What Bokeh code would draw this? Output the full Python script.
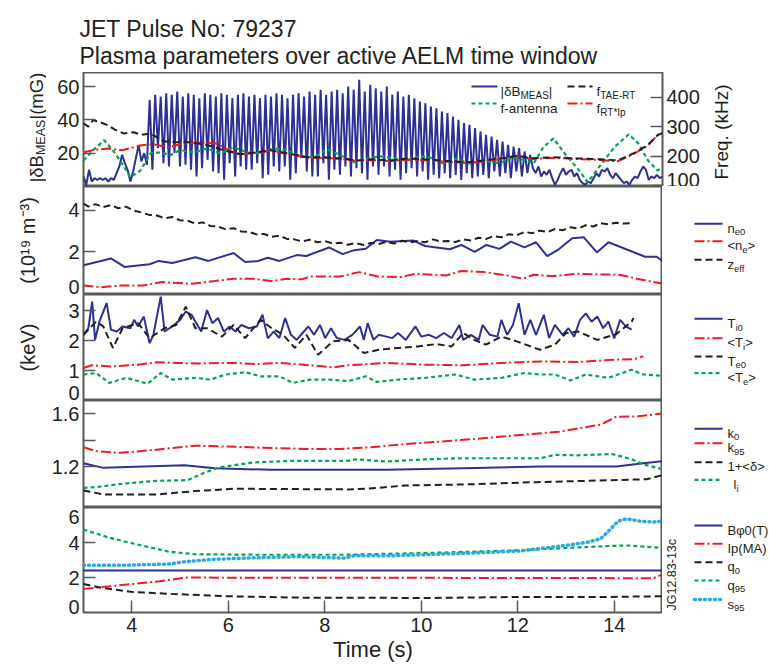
import numpy as np
from bokeh.plotting import figure
from bokeh.layouts import column, row
from bokeh.models import Range1d, LinearAxis, FixedTicker
from bokeh.core.properties import value
from bokeh.embed import file_html
from bokeh.resources import INLINE

# ---------------- data ----------------
# Panel 1: |dB_MEAS| (mG), uniformly sampled between 3 s and 15 s
db_meas = [6, 1, 10, 3, 5, 4, 5, 4, 5, 3, 5, 4, 8, 12, 19, 14, 10, 3, 9, 17, 25, 15, 20, 13,
           52, 10, 55, 23, 54, 14, 56, 12, 55, 20, 57, 12, 54, 13, 56, 10, 55, 6, 53, 11, 56, 16,
           55, 9, 54, 8, 56, 4, 55, 14, 53, 6, 55, 12, 56, 10, 54, 10, 55, 14, 53, 5, 55, 7,
           54, 12, 56, 9, 55, 12, 53, 4, 55, 8, 56, 17, 54, 9, 57, 6, 55, 6, 58, 14, 55, 4,
           57, 10, 58, 7, 56, 12, 60, 6, 58, 11, 64, 8, 57, 4, 61, 12, 59, 7, 57, 12, 60, 6,
           55, 10, 57, 4, 54, 8, 55, 11, 53, 6, 51, 9, 50, 4, 48, 7, 47, 5, 45, 8, 44, 5,
           42, 7, 40, 4, 38, 8, 37, 5, 35, 6, 33, 7, 31, 5, 30, 9, 28, 6, 27, 8, 25, 5,
           24, 9, 23, 6, 21, 8, 19,
           11, 8, 12, 6, 9, 7, 10, 5, 1, 4, 8, 11, 7, 9, 10, 6, 8, 4, 2, 1, 3, 2, 5, 8,
           6, 10, 9, 11, 7, 5, 8, 6, 4, 2, 3, 1, 4, 6, 5, 9, 12, 10, 4, 6, 5, 7, 5, 6]
db_time = np.linspace(3.0, 15.0, len(db_meas))

tae_t = [3.0, 3.1, 3.2, 3.35, 3.5, 3.65, 3.83, 4.04, 4.2, 4.39, 4.66, 4.95, 5.22, 5.57, 5.9,
         6.25, 6.6, 6.87, 7.23, 7.64, 7.98, 8.33, 8.68, 9.0, 9.36, 9.7, 10.05, 10.4, 10.96,
         11.5, 11.8, 12.0, 12.26, 12.74, 13.24, 13.71, 14.07, 14.4, 14.69, 14.9, 15.0]
tae_f = [311, 300, 322, 315, 305, 290, 277, 281, 272, 277, 250, 247, 247, 237, 220,
         206, 213, 220, 209, 196, 196, 192, 185, 189, 185, 192, 189, 185, 179,
         189, 195, 202, 192, 196, 192, 189, 185, 209, 237, 271, 278]

rtip_t = [3.0, 3.2, 3.5, 3.8, 4.2, 4.45, 4.75, 5.0, 5.4, 5.75, 6.1, 6.25, 6.6, 6.87, 7.23,
          7.64, 7.98, 8.33, 8.68, 9.0, 9.36, 9.7, 10.05, 10.4, 10.96, 11.5, 12.0, 12.26,
          12.74, 13.24, 13.71, 14.07, 14.4, 14.69, 14.9, 15.0]
rtip_f = [213, 220, 226, 220, 237, 240, 230, 240, 247, 243, 213, 206, 211, 218, 207,
          194, 194, 190, 183, 186, 183, 188, 186, 182, 176, 186, 200, 190,
          194, 190, 187, 182, 207, 235, 272, 282]

ant_t = [3.0, 3.2, 3.43, 3.64, 3.85, 3.97, 4.18, 4.39, 4.6, 4.8, 5.0, 5.3, 5.57, 5.84, 6.1,
         6.4, 6.66, 6.95, 7.23, 7.5, 7.78, 8.05, 8.33, 8.6, 8.88, 9.15, 9.43, 9.7, 9.98,
         10.18, 10.46, 10.73, 11.0, 11.3, 11.63, 11.9, 12.18, 12.33, 12.53, 12.74, 13.0,
         13.24, 13.45, 13.71, 14.0, 14.3, 14.5, 14.7, 14.9, 15.0]
ant_f = [185, 220, 254, 213, 162, 128, 151, 209, 213, 203, 220, 213, 226, 209, 230,
         213, 209, 226, 220, 199, 196, 223, 203, 179, 192, 199, 192, 185, 199,
         195, 175, 192, 175, 185, 175, 195, 185, 175, 230, 260, 203,
         158, 111, 168, 230, 274, 243, 185, 151, 162]

# Panel 2: densities (1e19 m^-3) and z_eff
ne0_t = [3.0, 3.57, 3.85, 4.37, 4.56, 4.84, 5.32, 5.59, 6.11, 6.35, 6.59, 6.82, 7.06, 7.42,
         7.62, 8.09, 8.37, 8.61, 8.85, 9.08, 9.36, 9.84, 10.08, 10.59, 10.83, 11.11, 11.35,
         11.62, 11.86, 12.14, 12.38, 12.61, 12.85, 13.13, 13.37, 13.64, 13.88, 14.64, 14.88, 15.0]
ne0 = [1.35, 1.68, 1.27, 1.4, 1.56, 1.46, 1.74, 1.56, 1.94, 1.51, 1.54, 1.71, 1.56, 1.84,
       1.80, 2.21, 1.89, 2.08, 2.15, 2.57, 2.49, 2.54, 2.28, 2.12, 2.33, 2.0, 2.33,
       2.14, 2.49, 2.21, 2.46, 1.79, 2.12, 2.65, 2.70, 1.97, 2.46, 1.76, 1.76, 1.56]
ne_avg_t = [3.0, 3.37, 3.76, 4.23, 4.63, 5.25, 5.72, 6.11, 6.51, 6.9, 7.22, 7.53, 7.69, 8.32,
            8.71, 9.1, 9.57, 9.88, 10.52, 10.83, 11.3, 11.78, 12.1, 12.33, 12.73, 13.2, 13.68,
            14.08, 14.47, 15.0]
ne_avg = [0.37, 0.29, 0.37, 0.37, 0.54, 0.46, 0.59, 0.70, 0.70, 0.59, 0.70, 0.67, 0.81, 0.81,
          1.02, 0.81, 0.78, 0.94, 0.86, 1.07, 1.02, 0.86, 0.70, 0.89, 0.83, 0.94, 0.91,
          0.91, 0.70, 0.46]
zeff_t = [3.0, 3.1, 3.25, 3.4, 3.57, 3.72, 3.88, 4.05, 4.2, 4.36, 4.52, 4.68, 4.84, 5.0, 5.16,
          5.32, 5.47, 5.63, 5.79, 5.95, 6.11, 6.27, 6.43, 6.59, 6.74, 6.9, 7.06, 7.22, 7.37,
          7.53, 7.69, 7.85, 8.0, 8.16, 8.32, 8.48, 8.64, 8.8, 8.96, 9.12, 9.28, 9.44, 9.6,
          9.76, 9.92, 10.08, 10.24, 10.4, 10.55, 10.71, 10.87, 11.03, 11.19, 11.35, 11.5,
          11.66, 11.82, 11.98, 12.14, 12.3, 12.46, 12.62, 12.77, 12.93, 13.09, 13.25, 13.41,
          13.57, 13.72, 13.88, 14.04, 14.2, 14.39]
zeff = [4.33, 4.18, 4.30, 4.15, 4.25, 4.10, 4.18, 3.98, 3.90, 3.78, 3.75, 3.62, 3.68, 3.52, 3.50,
        3.36, 3.42, 3.25, 3.22, 3.08, 3.14, 2.98, 2.96, 2.84, 2.86, 2.72, 2.78, 2.62, 2.60,
        2.50, 2.58, 2.46, 2.52, 2.40, 2.44, 2.34, 2.42, 2.33, 2.43, 2.38, 2.48, 2.40, 2.53,
        2.45, 2.52, 2.46, 2.60, 2.50, 2.52, 2.47, 2.60, 2.55, 2.68, 2.62, 2.76,
        2.70, 2.85, 2.80, 2.96, 2.90, 3.02, 2.95, 3.10, 3.04, 3.18, 3.12, 3.28,
        3.22, 3.38, 3.33, 3.40, 3.36, 3.38]

# Panel 3: temperatures (keV)
ti0_t = [3.0, 3.10, 3.18, 3.24, 3.33, 3.48, 3.57, 3.69, 3.81, 3.97, 4.05, 4.13, 4.25, 4.37,
         4.45, 4.60, 4.68, 4.84, 5.00, 5.12, 5.24, 5.32, 5.44, 5.56, 5.67, 5.79, 5.91, 6.03,
         6.15, 6.27, 6.43, 6.59, 6.71, 6.82, 6.94, 7.06, 7.18, 7.30, 7.42, 7.54, 7.66, 7.78,
         7.90, 8.01, 8.13, 8.25, 8.41, 8.57, 8.73, 8.81, 8.89, 9.01, 9.12, 9.28, 9.40, 9.52,
         9.68, 9.88, 10.00, 10.16, 10.31, 10.47, 10.63, 10.79, 10.87, 11.03, 11.19, 11.27,
         11.42, 11.58, 11.66, 11.78, 11.90, 12.02, 12.14, 12.26, 12.38, 12.54, 12.65, 12.77,
         12.93, 13.05, 13.17, 13.29, 13.41, 13.53, 13.65, 13.77, 13.88, 14.00, 14.12, 14.24, 14.36]
ti0 = [2.2, 2.42, 3.31, 2.03, 2.64, 3.26, 2.37, 2.31, 2.48, 2.42, 2.7, 2.48, 2.81, 1.92,
       2.2, 3.48, 2.31, 2.48, 2.7, 2.98, 2.87, 2.64, 2.31, 3.03, 2.59, 2.76, 2.31, 2.48,
       2.31, 2.53, 2.42, 2.48, 2.87, 2.08, 2.31, 2.09, 2.76, 2.2, 2.03, 2.26, 2.48, 2.2,
       2.53, 2.09, 2.42, 2.09, 2.03, 2.2, 2.48, 2.03, 2.59, 2.03, 2.2, 2.14, 2.09, 2.26,
       2.03, 2.48, 2.14, 2.2, 2.09, 2.26, 2.09, 2.53, 2.03, 2.2, 2.03, 2.53,
       2.2, 2.14, 2.7, 2.2, 2.53, 3.26, 2.2, 2.7, 2.2, 2.87, 2.09, 2.53,
       2.2, 2.42, 2.14, 2.7, 2.92, 2.64, 2.81, 2.42, 2.64, 2.08, 2.7, 2.48, 2.37]
ti_avg_t = [3.0, 3.17, 3.57, 4.13, 4.52, 4.92, 5.32, 6.11, 6.59, 7.06, 7.70, 8.17, 8.49, 9.28,
            10.08, 10.87, 11.66, 12.46, 13.25, 14.04, 14.40, 14.60]
ti_avg = [1.09, 1.18, 1.14, 1.2, 1.28, 1.26, 1.24, 1.26, 1.22, 1.26, 1.18, 1.11, 1.18, 1.26,
          1.2, 1.18, 1.26, 1.31, 1.29, 1.37, 1.38, 1.48]
te0_t = [3.0, 3.26, 3.41, 3.61, 3.81, 4.13, 4.37, 4.68, 4.92, 5.12, 5.32, 5.56, 5.87, 6.11,
         6.35, 6.67, 6.90, 7.14, 7.38, 7.62, 7.86, 8.17, 8.49, 8.81, 9.12, 9.52, 9.92, 10.31,
         10.63, 10.87, 11.10, 11.34, 11.66, 11.98, 12.46, 12.77, 13.00, 13.25, 13.65, 14.04,
         14.36, 14.40]
te0 = [2.2, 2.64, 2.48, 1.76, 2.42, 2.59, 2.09, 2.42, 2.53, 3.14, 2.42, 2.42, 2.14, 2.53,
       2.09, 2.7, 2.42, 2.2, 1.76, 2.2, 1.53, 1.98, 2.03, 1.59, 1.7, 1.76, 1.81, 1.89,
       1.81, 2.26, 2.03, 1.87, 2.14, 1.98, 1.7, 1.87, 2.26, 2.31, 2.03, 2.22, 2.64, 2.76]
te_avg_t = [3.0, 3.26, 3.53, 3.89, 4.33, 4.60, 4.84, 5.32, 5.63, 5.95, 6.35, 6.67, 7.06, 7.34,
            7.70, 8.09, 8.49, 8.85, 9.08, 9.52, 10.08, 10.71, 11.10, 11.66, 12.14, 12.46,
            12.77, 13.09, 13.41, 13.88, 14.36, 14.60, 15.0]
te_avg = [0.87, 0.92, 0.59, 0.76, 0.56, 0.92, 0.70, 0.76, 0.70, 0.87, 0.95, 0.81, 0.81, 0.59,
          0.70, 0.70, 0.65, 0.81, 0.62, 0.70, 0.76, 0.87, 0.70, 0.76, 0.92, 0.87,
          0.87, 0.67, 0.87, 0.76, 1.03, 0.87, 0.83]

# Panel 4: shape parameters
k95_t = [3.0, 3.26, 3.73, 4.52, 5.32, 6.11, 6.9, 7.69, 8.32, 8.96, 9.68, 10.48, 11.27, 12.06,
         12.85, 13.72, 14.04, 14.5, 15.0]
k95 = [1.346, 1.316, 1.303, 1.328, 1.358, 1.35, 1.34, 1.333, 1.333, 1.346, 1.371, 1.391, 1.414,
       1.439, 1.464, 1.517, 1.577, 1.58, 1.602]
k0_t = [3.0, 3.41, 5.09, 5.72, 6.9, 9.28, 10.87, 12.46, 14.04, 14.6, 15.0]
k0 = [1.225, 1.19, 1.21, 1.188, 1.175, 1.175, 1.188, 1.2, 1.2, 1.225, 1.24]
delta_t = [3.0, 3.41, 4.52, 5.32, 6.11, 8.48, 8.88, 9.68, 10.87, 12.38, 13.24, 14.67, 15.0]
delta1 = [1.019, 0.989, 0.989, 1.014, 1.032, 1.027, 1.032, 1.057, 1.064, 1.082, 1.09, 1.104, 1.136]
li_t = [3.0, 3.26, 3.73, 4.13, 4.52, 5.16, 5.47, 5.79, 6.51, 7.3, 8.48, 8.64, 9.28, 10.08,
        10.87, 11.67, 12.46, 12.77, 13.24, 13.96, 14.36, 14.6, 15.0]
li = [1.039, 1.044, 1.067, 1.08, 1.092, 1.097, 1.148, 1.193, 1.231, 1.243, 1.243, 1.255, 1.238,
      1.255, 1.263, 1.263, 1.263, 1.288, 1.285, 1.295, 1.255, 1.218, 1.18]

# Panel 5: field, current, safety factors
bphi_t = [3.0, 9.0, 15.0]
bphi = [2.4, 2.4, 2.4]
ip_t = [3.0, 4.03, 4.58, 5.13, 6.59, 10.24, 14.81, 15.0]
ip = [1.35, 1.63, 1.78, 2.0, 1.98, 1.98, 1.96, 2.18]
q0_t = [3.0, 3.39, 4.03, 4.76, 5.95, 7.5, 10.24, 12.07, 13.89, 15.0]
q0 = [1.63, 1.4, 1.17, 1.07, 0.93, 0.85, 0.83, 0.89, 0.89, 0.93]
q95_t = [3.0, 3.49, 4.03, 4.76, 5.31, 6.59, 8.42, 10.24, 12.07, 13.89, 14.26, 15.0]
q95 = [4.74, 4.31, 3.94, 3.48, 3.33, 3.30, 3.30, 3.41, 3.56, 3.80, 3.83, 3.69]
s95_t = [3.0, 3.85, 4.76, 5.13, 5.68, 6.59, 7.5, 8.42, 8.6, 9.33, 10.24, 11.16, 12.07, 12.98,
         13.44, 13.71, 13.89, 14.08, 14.26, 14.53, 14.81, 15.0]
s95 = [2.70, 2.70, 2.77, 2.91, 3.04, 3.13, 3.19, 3.11, 3.24, 3.24, 3.32, 3.41, 3.52, 3.83,
       4.02, 4.2, 4.67, 5.22, 5.35, 5.22, 5.17, 5.22]

time_ticks = [4, 6, 8, 10, 12, 14]

# ---------------- styling ----------------
FONT = "Liberation Sans"
TXT = "#231f20"
FRAME = "#58595b"
BLUE = "#2e3192"
RED = "#ed1c24"
BLACK = "#231f20"
GREEN = "#00a651"
CYAN = "#27aae1"

ST = {
    "blue": dict(line_color=BLUE, line_width=2),
    "red": dict(line_color=RED, line_width=2, line_dash="10 3 2 3"),
    "black": dict(line_color=BLACK, line_width=2, line_dash="7 4"),
    "green": dict(line_color=GREEN, line_width=2.2, line_dash="4 3"),
    "cyan": dict(line_color=CYAN, line_width=3.5, line_dash="1 4", line_cap="round"),
}

W = {' ': 278, '|': 260, 'δ': 556, 'B': 667, 'M': 833, 'E': 667, 'A': 667, 'S': 667, 'f': 278,
     'T': 611, '-': 333, 'R': 722, '*': 389, 'I': 278, 'p': 556, 'a': 556, 'n': 556, 't': 278,
     'e': 556, '<': 584, '>': 584, 'z': 500, 'i': 222, 'k': 500, 'l': 222, '+': 584, 'q': 556,
     's': 500, 'φ': 652, '(': 333, ')': 333, 'm': 833, 'G': 778, 'J': 500, '.': 278, 'c': 500,
     'F': 611, 'r': 333, 'H': 722, '−': 584, 'V': 667}


def tw(s):
    return sum(W.get(c, 556) for c in s) / 1000.0


def blank(w, h, yr=None, bottom=0):
    p = figure(width=w, height=h, x_range=Range1d(0, w),
               y_range=Range1d(*(yr if yr else (0, h))),
               output_backend="svg", toolbar_location=None, title=None,
               x_axis_location=None, y_axis_location=None,
               min_border_left=0, min_border_right=0, min_border_top=0,
               min_border_bottom=bottom)
    p.grid.grid_line_color = None
    p.outline_line_color = None
    p.background_fill_color = "white"
    p.border_fill_color = "white"
    return p


def htext(p, x, y, segs, fs, fss, dsub=4.0, dsup=7.0):
    off = 0.0
    for s, k in segs:
        size = fs if k == 0 else fss
        yo = 0.0 if k == 0 else (dsub if k == 1 else -dsup)
        p.text(x=[x], y=[y], text=[s], x_offset=off, y_offset=yo,
               text_font=value(FONT), text_font_size=f"{size}px", text_color=TXT,
               text_baseline="alphabetic", text_align="left")
        off += tw(s) * size


def vtext(p, x, y, segs, fs, fss, dsub=4.0, dsup=8.0):
    pos = y
    for s, k in segs:
        size = fs if k == 0 else fss
        xx = x if k == 0 else (x + dsub if k == 1 else x - dsup)
        p.text(x=[xx], y=[pos], text=[s], angle=np.pi / 2,
               text_font=value(FONT), text_font_size=f"{size}px", text_color=TXT,
               text_baseline="alphabetic", text_align="left")
        pos += tw(s) * size


def style_axis(ax, labels, marks, overrides=None):
    # labels come from major ticks (no drawn mark); drawn marks are minor ticks
    ax.ticker = FixedTicker(ticks=labels, minor_ticks=marks)
    ax.axis_line_color = None
    ax.major_tick_in = 0
    ax.major_tick_out = 0
    ax.minor_tick_in = 12
    ax.minor_tick_out = 0
    ax.minor_tick_line_color = FRAME
    ax.minor_tick_line_width = 1.5
    ax.major_label_text_font = FONT
    ax.major_label_text_font_size = "20px"
    ax.major_label_text_color = TXT
    ax.major_label_standoff = 4
    if overrides:
        ax.major_label_overrides = overrides


def set_axis_label(ax, text, standoff, size="20px"):
    ax.axis_label = text
    ax.axis_label_text_font = FONT
    ax.axis_label_text_font_size = size
    ax.axis_label_text_font_style = "normal"
    ax.axis_label_text_color = TXT
    ax.axis_label_standoff = standoff


def panel(w, h, yr, labels, marks, left, right=0, bottom=0, xaxis=False, overrides=None):
    p = figure(width=w, height=h, x_range=Range1d(3, 15), y_range=Range1d(*yr),
               output_backend="svg", toolbar_location=None, title=None,
               x_axis_location="below" if xaxis else None,
               min_border_left=left, min_border_right=right,
               min_border_top=0, min_border_bottom=bottom)
    p.grid.grid_line_color = None
    p.outline_line_color = FRAME
    p.outline_line_width = 2
    p.background_fill_color = "white"
    p.border_fill_color = "white"
    style_axis(p.yaxis[0], labels, marks, overrides)
    if xaxis:
        ax = p.xaxis[0]
        style_axis(ax, time_ticks, time_ticks)
        ax.major_label_standoff = 5
        set_axis_label(ax, "Time (s)", 2, "22px")
    return p


# ---------------- title ----------------
title_fig = blank(769, 72)
title_fig.text(x=[79, 79], y=[44, 17],
               text=["JET Pulse No: 79237", "Plasma parameters over active AELM time window"],
               text_font=value(FONT), text_font_size="23px", text_color=TXT,
               text_baseline="alphabetic", text_align="left")

# ---------------- panel 1 ----------------
P1_LO, P1_HI = 0.0, 68.4
p1 = panel(660, 114, (P1_LO, P1_HI), [20, 40, 60], [20, 40, 60], left=37, right=44)
p1.extra_y_ranges = {"freq": Range1d(96.6, 484)}
rax = LinearAxis(y_range_name="freq")
style_axis(rax, [100, 200, 300, 400], [100, 200, 300, 400])
p1.add_layout(rax, "right")

p1.line(db_time, db_meas, **ST["blue"])
p1.line(ant_t, ant_f, y_range_name="freq", **ST["green"])
p1.line(rtip_t, rtip_f, y_range_name="freq", **ST["red"])
p1.line(tae_t, tae_f, y_range_name="freq", **ST["black"])


def d1x(px):
    return 3.0 + (px - 83.0) / 48.25


def d1y(py):
    return P1_LO + (186.0 - py) / 114.0 * (P1_HI - P1_LO)


leg1 = [
    (471, 497, 500, 86, "blue", [("|δB", 0), ("MEAS", 1), ("|", 0)]),
    (567, 592, 596, 86, "black", [("f", 0), ("TAE-RT", 1)]),
    (471, 497, 500, 103, "green", [("f-antenna", 0)]),
    (567, 592, 596, 103, "red", [("f", 0), ("RT*Ip", 1)]),
]
for xa, xb, xt, py, st, segs in leg1:
    p1.line([d1x(xa), d1x(xb)], [d1y(py), d1y(py)], **ST[st])
    htext(p1, d1x(xt), d1y(py + 4.5), segs, 13.5, 10)

# rotated title of the left axis of panel 1 (with subscript), page y 72..186
strip1 = blank(46, 114)
vtext(strip1, 36, 4, [("|δB", 0), ("MEAS", 1), ("|(mG)", 0)], 18.5, 12.5)

# rotated title of the right axis of panel 1 (reads bottom to top)
freq_fig = blank(63, 114)
vtext(freq_fig, 15, 7, [("Freq. (kHz)", 0)], 19, 12.5)

# ---------------- panel 2 ----------------
p2 = panel(662, 108, (-0.06, 5.15), [0.3, 2, 4], [2, 4], left=83, overrides={0.3: "0"})
set_axis_label(p2.yaxis[0], "(10¹⁹ m⁻³)", 26)
p2.line(ne0_t, ne0, **ST["blue"])
p2.line(ne_avg_t, ne_avg, **ST["red"])
p2.line(zeff_t, zeff, **ST["black"])

# ---------------- panel 3 ----------------
p3 = panel(662, 106, (0.0, 3.55), [0.25, 1, 2, 3], [1, 2, 3], left=83, overrides={0.25: "0"})
set_axis_label(p3.yaxis[0], "(keV)", 26)
p3.line(ti0_t, ti0, **ST["blue"])
p3.line(ti_avg_t, ti_avg, **ST["red"])
p3.line(te0_t, te0, **ST["black"])
p3.line(te_avg_t, te_avg, **ST["green"])

# ---------------- panel 4 ----------------
p4 = panel(662, 107, (0.89, 1.70), [1.2, 1.6], [1.2, 1.4, 1.6], left=83)
p4.line(k0_t, k0, **ST["blue"])
p4.line(k95_t, k95, **ST["red"])
p4.line(delta_t, delta1, **ST["black"])
p4.line(li_t, li, **ST["green"])

# ---------------- panel 5 ----------------
p5 = panel(662, 158, (0.0, 6.0), [0.29, 2, 4, 5.43], [2, 4], left=83, bottom=53, xaxis=True,
           overrides={0.29: "0", 5.43: "6"})
p5.line(bphi_t, bphi, **ST["blue"])
p5.line(ip_t, ip, **ST["red"])
p5.line(q0_t, q0, **ST["black"])
p5.line(q95_t, q95, **ST["green"])
p5.line(s95_t, s95, **ST["cyan"])


# ---------------- right-hand legends ----------------
def legend_fig(h, top, entries, frame_h=None, bottom=0):
    fh = frame_h if frame_h else h
    f = blank(107, h, yr=(0, fh), bottom=bottom)
    for py, st, segs, ddx in entries:
        yy = top + fh - py
        f.line([694 - 662, 722 - 662], [yy, yy], **ST[st])
        htext(f, 727 - 662 + ddx, yy - 4.5, segs, 13, 9.5)
    return f


leg2 = legend_fig(108, 186, [
    (223.3, "blue", [("n", 0), ("e0", 1)], 0),
    (240.7, "red", [("<n", 0), ("e", 1), (">", 0)], 0),
    (259.3, "black", [("z", 0), ("eff", 1)], 0),
])
leg3 = legend_fig(106, 294, [
    (318.3, "blue", [("T", 0), ("i0", 1)], 0),
    (337.7, "red", [("<T", 0), ("i", 1), (">", 0)], 0),
    (356.0, "black", [("T", 0), ("e0", 1)], 0),
    (372.7, "green", [("<T", 0), ("e", 1), (">", 0)], 0),
])
leg4 = legend_fig(107, 400, [
    (428.3, "blue", [("k", 0), ("0", 1)], 0),
    (442.7, "red", [("k", 0), ("95", 1)], 0),
    (461.7, "black", [("1+<δ>", 0)], 0),
    (479.3, "green", [("l", 0), ("i", 1)], 6),
])
leg5 = legend_fig(158, 507, [
    (525.0, "blue", [("Bφ0(T)", 0)], 0),
    (543.3, "red", [("Ip(MA)", 0)], 0),
    (561.7, "black", [("q", 0), ("0", 1)], 0),
    (580.0, "green", [("q", 0), ("95", 1)], 0),
    (599.0, "cyan", [("s", 0), ("95", 1)], 0),
], frame_h=105, bottom=53)
leg5.text(x=[9], y=[612 - 610], text=["JG12.83-13c"], angle=np.pi / 2,
          text_font=value(FONT), text_font_size="12.5px", text_color=TXT,
          text_baseline="middle", text_align="left")

# ---------------- layout ----------------
layout = column(title_fig,
                row(strip1, p1, freq_fig),
                row(p2, leg2),
                row(p3, leg3),
                row(p4, leg4),
                row(p5, leg5))

open("out.html", "w").write(file_html(layout, INLINE))
